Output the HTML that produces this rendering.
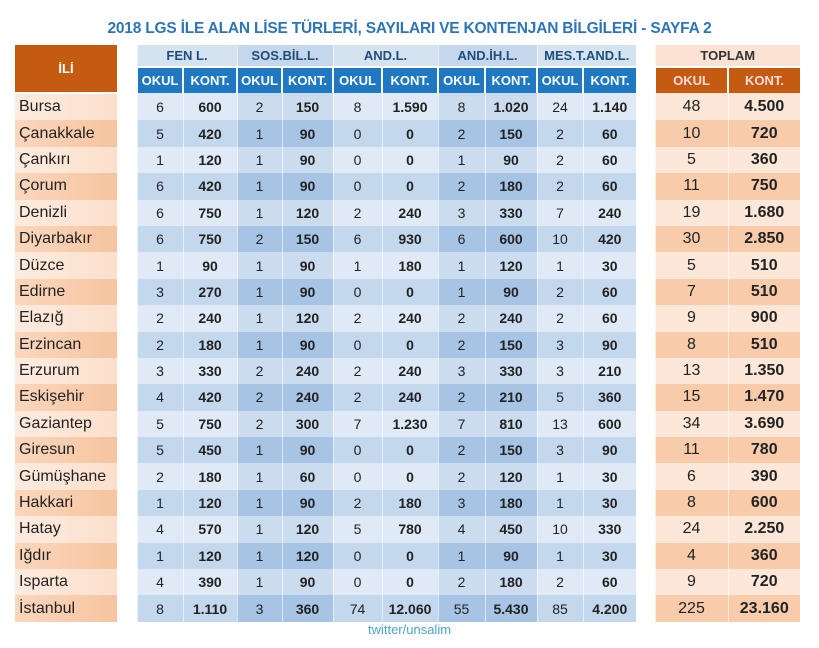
<!DOCTYPE html>
<html><head><meta charset="utf-8"><style>
body{margin:0;width:819px;height:648px;background:#fff;font-family:"Liberation Sans",sans-serif;overflow:hidden;position:relative}
.title{position:absolute;left:0;width:819px;top:20px;text-align:center;color:#2e75b6;font-weight:bold;font-size:15.5px;letter-spacing:-0.2px}
table{position:absolute;left:15px;top:45px;border-collapse:collapse;table-layout:fixed}
td{padding:0;text-align:center;font-size:14px;color:#222;border-left:1px solid rgba(255,255,255,.6);height:26.4px}
td.n{text-align:left;padding-left:4px;font-size:16px;color:#222;border:none;background:linear-gradient(90deg,#fdebdf,#fce0cc)}
tr.d td.n{background:linear-gradient(90deg,#fad7bd,#f6c4a0)}
td.g{border:none;background:#fff}
tr.h1 td{height:21px;font-weight:bold;color:#1e4e79;font-size:13px;background:#d5e3f1}
tr.h1 td.alt{background:#c4d7ec}
tr.h1 td.tp{background:#fbe2d2;color:#333}
tr.h1 td.g{background:#fff}
tr.h2 td{height:25px;background:#1e78c2;color:#fff;font-weight:bold;font-size:13px;border-left:2px solid #fff;border-top:2px solid #fff}
tr.h2 td.to{background:#c55a11;color:#fdd}
tr.h1 td.il{background:#c55a11;color:#fff;font-size:13px;border:none;text-align:center;border-bottom:2px solid #fff}
td.b{font-weight:bold}
tr td.c{background:#dfeaf6}
tr td.a{background:#cbdcef}
tr.d td.c{background:#c3d7ed}
tr.d td.a{background:#a7c4e4}
tr td.t{background:#fde7d9;font-size:16px}
tr.d td.t{background:#f8cbab}
td.tb{font-weight:bold}
.f{position:absolute;top:622px;left:0;width:819px;text-align:center;color:#4aa6c8;font-size:13px}
</style></head><body>
<div class="title">2018 LGS İLE ALAN LİSE TÜRLERİ, SAYILARI VE KONTENJAN BİLGİLERİ - SAYFA 2</div>
<table>
<colgroup><col style="width:102px"><col style="width:20px"><col style="width:46px"><col style="width:54px"><col style="width:45px"><col style="width:51px"><col style="width:49px"><col style="width:56px"><col style="width:47px"><col style="width:52px"><col style="width:46px"><col style="width:53px"><col style="width:19px"><col style="width:73px"><col style="width:72px"></colgroup>
<tr class="h1"><td class="il" rowspan="2">İLİ</td><td class="g" rowspan="2"></td><td colspan="2">FEN L.</td><td colspan="2" class="alt">SOS.BİL.L.</td><td colspan="2">AND.L.</td><td colspan="2" class="alt">AND.İH.L.</td><td colspan="2">MES.T.AND.L.</td><td class="g" rowspan="2"></td><td colspan="2" class="tp">TOPLAM</td></tr>
<tr class="h2"><td>OKUL</td><td>KONT.</td><td>OKUL</td><td>KONT.</td><td>OKUL</td><td>KONT.</td><td>OKUL</td><td>KONT.</td><td>OKUL</td><td>KONT.</td><td class="to">OKUL</td><td class="to">KONT.</td></tr>
<tr><td class="n">Bursa</td><td class="g"></td><td class="c">6</td><td class="c b">600</td><td class="a">2</td><td class="a b">150</td><td class="c">8</td><td class="c b">1.590</td><td class="a">8</td><td class="a b">1.020</td><td class="c">24</td><td class="c b">1.140</td><td class="g"></td><td class="t">48</td><td class="t tb">4.500</td></tr>
<tr class="d"><td class="n">Çanakkale</td><td class="g"></td><td class="c">5</td><td class="c b">420</td><td class="a">1</td><td class="a b">90</td><td class="c">0</td><td class="c b">0</td><td class="a">2</td><td class="a b">150</td><td class="c">2</td><td class="c b">60</td><td class="g"></td><td class="t">10</td><td class="t tb">720</td></tr>
<tr><td class="n">Çankırı</td><td class="g"></td><td class="c">1</td><td class="c b">120</td><td class="a">1</td><td class="a b">90</td><td class="c">0</td><td class="c b">0</td><td class="a">1</td><td class="a b">90</td><td class="c">2</td><td class="c b">60</td><td class="g"></td><td class="t">5</td><td class="t tb">360</td></tr>
<tr class="d"><td class="n">Çorum</td><td class="g"></td><td class="c">6</td><td class="c b">420</td><td class="a">1</td><td class="a b">90</td><td class="c">0</td><td class="c b">0</td><td class="a">2</td><td class="a b">180</td><td class="c">2</td><td class="c b">60</td><td class="g"></td><td class="t">11</td><td class="t tb">750</td></tr>
<tr><td class="n">Denizli</td><td class="g"></td><td class="c">6</td><td class="c b">750</td><td class="a">1</td><td class="a b">120</td><td class="c">2</td><td class="c b">240</td><td class="a">3</td><td class="a b">330</td><td class="c">7</td><td class="c b">240</td><td class="g"></td><td class="t">19</td><td class="t tb">1.680</td></tr>
<tr class="d"><td class="n">Diyarbakır</td><td class="g"></td><td class="c">6</td><td class="c b">750</td><td class="a">2</td><td class="a b">150</td><td class="c">6</td><td class="c b">930</td><td class="a">6</td><td class="a b">600</td><td class="c">10</td><td class="c b">420</td><td class="g"></td><td class="t">30</td><td class="t tb">2.850</td></tr>
<tr><td class="n">Düzce</td><td class="g"></td><td class="c">1</td><td class="c b">90</td><td class="a">1</td><td class="a b">90</td><td class="c">1</td><td class="c b">180</td><td class="a">1</td><td class="a b">120</td><td class="c">1</td><td class="c b">30</td><td class="g"></td><td class="t">5</td><td class="t tb">510</td></tr>
<tr class="d"><td class="n">Edirne</td><td class="g"></td><td class="c">3</td><td class="c b">270</td><td class="a">1</td><td class="a b">90</td><td class="c">0</td><td class="c b">0</td><td class="a">1</td><td class="a b">90</td><td class="c">2</td><td class="c b">60</td><td class="g"></td><td class="t">7</td><td class="t tb">510</td></tr>
<tr><td class="n">Elazığ</td><td class="g"></td><td class="c">2</td><td class="c b">240</td><td class="a">1</td><td class="a b">120</td><td class="c">2</td><td class="c b">240</td><td class="a">2</td><td class="a b">240</td><td class="c">2</td><td class="c b">60</td><td class="g"></td><td class="t">9</td><td class="t tb">900</td></tr>
<tr class="d"><td class="n">Erzincan</td><td class="g"></td><td class="c">2</td><td class="c b">180</td><td class="a">1</td><td class="a b">90</td><td class="c">0</td><td class="c b">0</td><td class="a">2</td><td class="a b">150</td><td class="c">3</td><td class="c b">90</td><td class="g"></td><td class="t">8</td><td class="t tb">510</td></tr>
<tr><td class="n">Erzurum</td><td class="g"></td><td class="c">3</td><td class="c b">330</td><td class="a">2</td><td class="a b">240</td><td class="c">2</td><td class="c b">240</td><td class="a">3</td><td class="a b">330</td><td class="c">3</td><td class="c b">210</td><td class="g"></td><td class="t">13</td><td class="t tb">1.350</td></tr>
<tr class="d"><td class="n">Eskişehir</td><td class="g"></td><td class="c">4</td><td class="c b">420</td><td class="a">2</td><td class="a b">240</td><td class="c">2</td><td class="c b">240</td><td class="a">2</td><td class="a b">210</td><td class="c">5</td><td class="c b">360</td><td class="g"></td><td class="t">15</td><td class="t tb">1.470</td></tr>
<tr><td class="n">Gaziantep</td><td class="g"></td><td class="c">5</td><td class="c b">750</td><td class="a">2</td><td class="a b">300</td><td class="c">7</td><td class="c b">1.230</td><td class="a">7</td><td class="a b">810</td><td class="c">13</td><td class="c b">600</td><td class="g"></td><td class="t">34</td><td class="t tb">3.690</td></tr>
<tr class="d"><td class="n">Giresun</td><td class="g"></td><td class="c">5</td><td class="c b">450</td><td class="a">1</td><td class="a b">90</td><td class="c">0</td><td class="c b">0</td><td class="a">2</td><td class="a b">150</td><td class="c">3</td><td class="c b">90</td><td class="g"></td><td class="t">11</td><td class="t tb">780</td></tr>
<tr><td class="n">Gümüşhane</td><td class="g"></td><td class="c">2</td><td class="c b">180</td><td class="a">1</td><td class="a b">60</td><td class="c">0</td><td class="c b">0</td><td class="a">2</td><td class="a b">120</td><td class="c">1</td><td class="c b">30</td><td class="g"></td><td class="t">6</td><td class="t tb">390</td></tr>
<tr class="d"><td class="n">Hakkari</td><td class="g"></td><td class="c">1</td><td class="c b">120</td><td class="a">1</td><td class="a b">90</td><td class="c">2</td><td class="c b">180</td><td class="a">3</td><td class="a b">180</td><td class="c">1</td><td class="c b">30</td><td class="g"></td><td class="t">8</td><td class="t tb">600</td></tr>
<tr><td class="n">Hatay</td><td class="g"></td><td class="c">4</td><td class="c b">570</td><td class="a">1</td><td class="a b">120</td><td class="c">5</td><td class="c b">780</td><td class="a">4</td><td class="a b">450</td><td class="c">10</td><td class="c b">330</td><td class="g"></td><td class="t">24</td><td class="t tb">2.250</td></tr>
<tr class="d"><td class="n">Iğdır</td><td class="g"></td><td class="c">1</td><td class="c b">120</td><td class="a">1</td><td class="a b">120</td><td class="c">0</td><td class="c b">0</td><td class="a">1</td><td class="a b">90</td><td class="c">1</td><td class="c b">30</td><td class="g"></td><td class="t">4</td><td class="t tb">360</td></tr>
<tr><td class="n">Isparta</td><td class="g"></td><td class="c">4</td><td class="c b">390</td><td class="a">1</td><td class="a b">90</td><td class="c">0</td><td class="c b">0</td><td class="a">2</td><td class="a b">180</td><td class="c">2</td><td class="c b">60</td><td class="g"></td><td class="t">9</td><td class="t tb">720</td></tr>
<tr class="d"><td class="n">İstanbul</td><td class="g"></td><td class="c">8</td><td class="c b">1.110</td><td class="a">3</td><td class="a b">360</td><td class="c">74</td><td class="c b">12.060</td><td class="a">55</td><td class="a b">5.430</td><td class="c">85</td><td class="c b">4.200</td><td class="g"></td><td class="t">225</td><td class="t tb">23.160</td></tr>
</table>
<div class="f">twitter/unsalim</div>
</body></html>
